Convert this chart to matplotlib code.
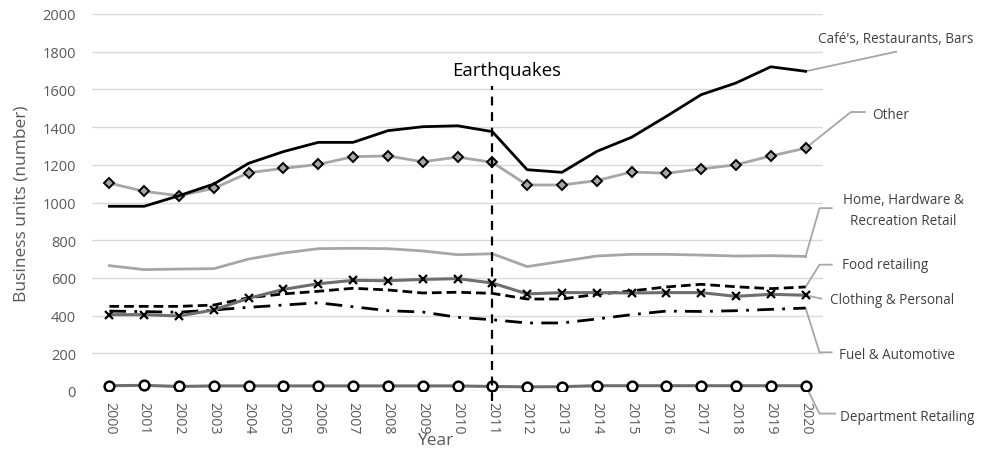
import matplotlib
matplotlib.use("Agg")
import matplotlib.pyplot as plt

plt.rcParams['font.family'] = ['Open Sans', 'DejaVu Sans']

years = list(range(2000, 2021))

cafes = [980, 980, 1036, 1098, 1208, 1270, 1319, 1319, 1381, 1402, 1407, 1376,
         1174, 1160, 1271, 1346, 1457, 1572, 1634, 1720, 1696]
other = [1103, 1059, 1036, 1075, 1158, 1181, 1202, 1243, 1247, 1216, 1241, 1213,
         1093, 1093, 1116, 1162, 1155, 1178, 1200, 1247, 1288]
home_hardware = [665, 644, 647, 649, 700, 732, 755, 757, 755, 743, 723, 728,
                 660, 688, 716, 725, 725, 721, 716, 718, 714]
food = [449, 449, 449, 456, 495, 515, 529, 545, 536, 520, 524, 518,
        488, 488, 513, 531, 552, 566, 553, 543, 552]
clothing = [405, 405, 398, 430, 492, 539, 569, 587, 585, 592, 596, 573,
            515, 522, 522, 520, 522, 522, 502, 513, 508]
fuel = [424, 421, 418, 430, 444, 456, 468, 447, 426, 419, 391, 378,
        361, 361, 382, 405, 424, 422, 426, 433, 440]
department = [28, 30, 24, 27, 27, 27, 27, 27, 27, 27, 27, 24,
              22, 23, 28, 28, 28, 28, 28, 28, 28]

series_labels = ["Café's, Restaurants, Bars", "Other", "Home, Hardware &\nRecreation Retail",
                 "Food retailing", "Clothing & Personal", "Fuel & Automotive",
                 "Department Retailing"]
event_year = 2011
event_label = "Earthquakes"

fig = plt.figure(figsize=(9.88, 4.52), dpi=100)
ax = fig.add_axes([92/988, 1 - 392/452, (823 - 92)/988, (392 - 15)/452])

x = list(range(len(years)))

ax.plot(x, home_hardware, color='#a6a6a6', lw=2.0, zorder=3)
ax.plot(x, department, color='#6e6e6e', lw=2.2, marker='o', ms=7,
        mfc='white', mec='black', mew=1.8, zorder=4)
ax.plot(x, fuel, color='black', lw=2.0, ls=(0, (6, 3, 1, 3)), zorder=3)
ax.plot(x, food, color='black', lw=2.0, ls=(0, (3.5, 1.8)), zorder=3)
ax.plot(x, clothing, color='#6e6e6e', lw=2.2, marker='x', ms=6,
        mec='black', mew=1.6, zorder=4)
ax.plot(x, other, color='#a6a6a6', lw=2.0, marker='D', ms=5,
        mfc='#a6a6a6', mec='black', mew=1.4, zorder=4)
ax.plot(x, cafes, color='black', lw=2.0, zorder=4)

# earthquake marker line
ei = years.index(event_year)
ax.plot([ei, ei], [-55, 1620], color='black', lw=1.6, ls=(0, (4, 3)),
        clip_on=False, zorder=5)
ax.text(ei + 0.42, 1655, event_label, ha='center', va='bottom', fontsize=13.4, color='black')

ax.set_xlim(-0.5, len(years) - 0.5)
ax.set_ylim(0, 2000)
ax.set_yticks(range(0, 2001, 200))
ax.set_xticks(x)
ax.set_xticklabels([str(y) for y in years], rotation=-90, fontsize=10.2, color='#595959')
ax.tick_params(axis='y', labelsize=10.5, labelcolor='#595959', length=0, pad=11.5)
ax.tick_params(axis='x', length=0, pad=7.5)
ax.grid(axis='y', color='#d9d9d9', lw=1.0)
ax.set_axisbelow(True)
for s in ax.spines.values():
    s.set_visible(False)

ax.set_ylabel("Business units (number)", fontsize=12.5, color='#595959')
ax.yaxis.set_label_coords(-0.086, 0.5)
ax.set_xlabel("Year", fontsize=12.5, color='#595959')
ax.xaxis.set_label_coords(0.47, -0.11)

# leader lines to the series labels
last = len(years) - 1
ends = [cafes[-1], other[-1], home_hardware[-1], food[-1], clothing[-1], fuel[-1], department[-1]]
# (elbow x offset, elbow y value, horizontal length, text x offset, ha, text y value)
label_pos = [
    (2.6, 1800, 0.0, 2.6, 'center', 1870),
    (1.3, 1480, 0.4, 1.9, 'left', 1465),
    (0.4, 970, 0.35, 2.8, 'center', 960),
    (0.4, 670, 0.35, 1.05, 'left', 670),
    (0.45, 490, 0.0, 0.7, 'left', 485),
    (0.4, 205, 0.35, 0.95, 'left', 195),
    (0.4, -120, 0.45, 1.0, 'left', -133),
]
for (dx, ly, hl, tx, ha, ty), yv, lab in zip(label_pos, ends, series_labels):
    ax.plot([last, last + dx, last + dx + hl], [yv, ly, ly], color='#a6a6a6', lw=1.3,
            clip_on=False, zorder=2)
    ax.text(last + tx, ty, lab, ha=ha, va='center', fontsize=9.75, color='#404040',
            multialignment='center', linespacing=1.5, clip_on=False)

fig.savefig("out.png", dpi=100)
